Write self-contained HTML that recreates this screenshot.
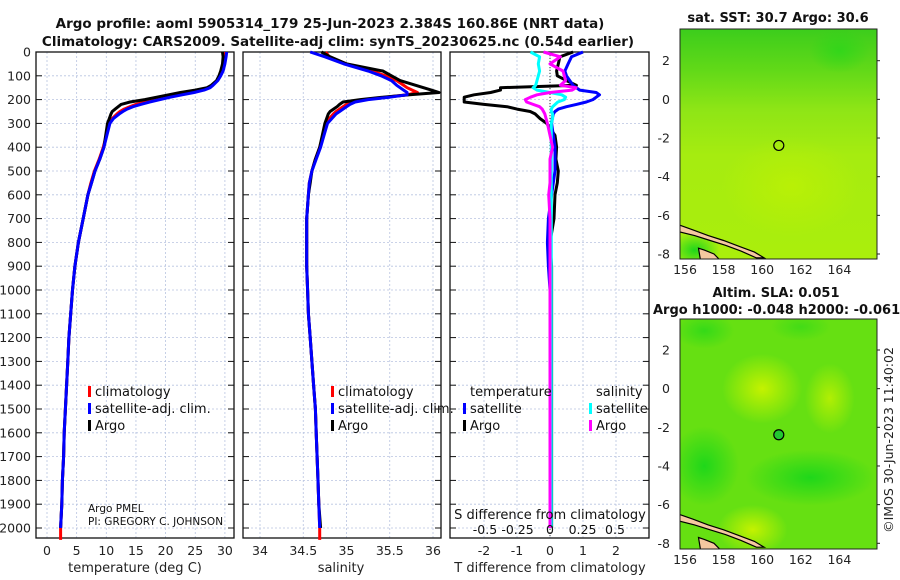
<!DOCTYPE html>
<html><head><meta charset="utf-8"><style>
html,body{margin:0;padding:0;background:#fff;}
svg{display:block;font-family:"DejaVu Sans","Liberation Sans",sans-serif;}
</style></head><body>
<svg id="fig" width="900" height="580" viewBox="0 0 900 580" xmlns="http://www.w3.org/2000/svg">
<defs>
<linearGradient id="sstGrad" x1="0" y1="0" x2="0" y2="1">
<stop offset="0" stop-color="#3ccd1c"/><stop offset="0.18" stop-color="#62d918"/><stop offset="0.35" stop-color="#8ee516"/><stop offset="0.55" stop-color="#a6ec10"/><stop offset="1" stop-color="#aaee0c"/>
</linearGradient>
<radialGradient id="ylw1" cx="0.5" cy="0.5" r="0.5"><stop offset="0" stop-color="#c4f200"/><stop offset="1" stop-color="#c4f200" stop-opacity="0"/></radialGradient>
<radialGradient id="grn1" cx="0.5" cy="0.5" r="0.5"><stop offset="0" stop-color="#1fd71a"/><stop offset="1" stop-color="#1fd71a" stop-opacity="0"/></radialGradient>
<clipPath id="clipTop"><rect x="680" y="29" width="197" height="230"/></clipPath>
<clipPath id="clipBot"><rect x="680" y="319" width="197" height="230"/></clipPath>
</defs>
<text x="330" y="28" text-anchor="middle" font-size="13.5" font-weight="bold" fill="#111">Argo profile: aoml 5905314_179 25-Jun-2023 2.384S 160.86E (NRT data)</text>
<text x="338" y="46" text-anchor="middle" font-size="13.5" font-weight="bold" fill="#111">Climatology: CARS2009. Satellite-adj clim: synTS_20230625.nc (0.54d earlier)</text>
<g id="plots"></g>
</svg>
<script>
// ---- data ----
const depths = [0,20,50,80,100,120,140,150,160,170,180,190,200,210,220,230,240,250,260,280,300,350,400,450,500,550,600,700,800,900,1000,1100,1200,1300,1400,1500,1600,1700,1800,1900,2000,2050];
const tempClim = [29.9,29.9,29.8,29.5,29.2,28.7,27.9,27.2,26,24,22,20,18,16.5,15,14,13,12.3,11.8,11,10.5,10,9.5,8.8,8.0,7.4,6.9,6.1,5.3,4.7,4.3,4.0,3.7,3.5,3.3,3.1,2.9,2.8,2.6,2.5,2.3,2.3];
const tempSat = [30.3,30.2,30.0,29.7,29.3,28.8,28.0,27.5,26.5,24.8,22.8,20.8,19,17.3,15.8,14.5,13.5,12.8,12.2,11.2,10.6,10.1,9.6,8.9,8.1,7.5,6.9,6.1,5.3,4.7,4.3,4.0,3.7,3.5,3.3,3.1,2.9,2.8,2.6,2.5,2.3,null];
const tempArgo = [29.6,29.7,29.6,29.3,29.0,28.6,27.7,27.0,25.0,22.5,20.5,18.5,16.5,14.0,12.5,12.0,11.5,11.0,10.8,10.5,10.2,9.9,9.6,8.9,8.1,7.5,6.9,6.1,5.3,4.7,4.3,4.0,3.7,3.5,3.3,3.1,2.9,2.8,2.6,2.5,2.3,null];
const salClim = [34.76,34.8,35.0,35.3,35.45,35.58,35.66,35.7,35.76,35.82,35.7,35.45,35.2,35.05,35.0,34.96,34.92,34.88,34.85,34.8,34.77,34.73,34.69,34.64,34.6,34.57,34.56,34.54,34.54,34.54,34.55,34.56,34.58,34.6,34.62,34.64,34.65,34.66,34.67,34.68,34.69,34.69];
const salSat = [34.58,34.75,34.97,35.25,35.4,35.52,35.58,35.62,35.66,35.7,35.7,35.5,35.25,35.1,35.04,35.0,34.96,34.92,34.88,34.83,34.78,34.74,34.7,34.65,34.6,34.57,34.56,34.54,34.54,34.54,34.55,34.56,34.58,34.6,34.62,34.64,34.65,34.66,34.67,34.68,34.69,null];
const salArgo = [34.71,34.81,35.0,35.42,35.52,35.62,35.8,35.89,35.98,36.07,35.73,35.42,35.16,34.96,34.92,34.89,34.85,34.81,34.79,34.77,34.75,34.72,34.69,34.64,34.6,34.58,34.56,34.54,34.54,34.54,34.55,34.56,34.58,34.6,34.62,34.64,34.65,34.66,34.67,34.68,34.70,null];
const tDiffArgo = [0.7,0.3,0.25,0.2,0.22,0.5,0.8,-1.5,-1.5,-1.8,-2.3,-2.6,-2.6,-2.6,-2.0,-1.3,-1.0,-0.6,-0.45,-0.3,-0.1,0.15,0.2,0.18,0.25,0.22,0.15,0.12,0.0,0.05,0.05,0.05,0.05,0.05,0.05,0.05,0.05,0.05,0.05,0.05,0.05,null];
const tDiffSat = [1.0,0.65,0.55,0.45,0.5,0.6,0.7,0.8,0.9,1.4,1.5,1.4,1.3,1.1,0.8,0.5,0.25,0.15,0.1,0.07,0.05,0.1,0.15,0.15,0.15,0.1,0.05,-0.05,-0.08,-0.05,0,0,0,0,0,0,0,0,0,0,0,null];
const sDiffSat = [-0.15,-0.08,-0.09,-0.08,-0.09,-0.1,-0.11,-0.13,-0.1,0.0,0.09,0.12,0.11,0.06,0.04,0.02,0.01,0.01,0.02,0.02,0.01,0.01,0.01,0.01,0.01,0.01,0.01,0.01,0.01,0.01,0.01,0.01,0.01,0.01,0.01,0.01,0.01,0.01,0.01,0.01,0.01,null];
const sDiffArgo = [-0.05,0.08,0.0,0.1,0.11,0.12,0.08,0.2,0.17,0.0,-0.1,-0.15,-0.19,-0.18,-0.13,-0.08,-0.06,-0.05,-0.04,-0.03,-0.02,0.0,0.02,0.0,0.0,0.0,-0.01,0,0,0,0,0,0,0,0,0,0,0,0,0,0,null];
const depthTicks = [0,100,200,300,400,500,600,700,800,900,1000,1100,1200,1300,1400,1500,1600,1700,1800,1900,2000];
const tempTicks = [0,5,10,15,20,25,30];
const salTicks = [34,34.5,35,35.5,36];
const tDiffTicks = [-2,-1,0,1,2];
const sDiffTicks = [-0.5,-0.25,0,0.25,0.5];
const lonTicks = [156,158,160,162,164];
const latTicks = [2,0,-2,-4,-6,-8];
const argoLon = 160.86, argoLat = -2.384;

// ---- helpers ----
const NS="http://www.w3.org/2000/svg";
const root=document.getElementById('plots');
function mk(tag,attrs,parent){const e=document.createElementNS(NS,tag);for(const k in attrs)e.setAttribute(k,attrs[k]);(parent||root).appendChild(e);return e;}
const PT=52, PB=538;
const yD = d => PT + d*0.238;
const panels = [
 {x0:36,x1:234,sx:v=>47+v*5.93,ticks:tempTicks,name:'temperature-panel'},
 {x0:243,x1:441,sx:v=>260+(v-34)*86.5,ticks:salTicks,name:'salinity-panel'},
 {x0:450,x1:649,sx:v=>550+v*33,ticks:tDiffTicks,name:'difference-panel'}
];
const sxS = v=>550+v*130;

panels.forEach((p,i)=>{
  const g=mk('g',{});
  
  
  depthTicks.forEach(d=>{
    const l=mk('line',{x1:p.x0,x2:p.x1,y1:yD(d),y2:yD(d),stroke:'#b8c4e0','stroke-width':0.8,'stroke-dasharray':'2,2'},g);
    
    
    mk('line',{x1:p.x0,x2:p.x0+6,y1:yD(d),y2:yD(d),stroke:'#111','stroke-width':1},g);
    mk('line',{x1:p.x1-6,x2:p.x1,y1:yD(d),y2:yD(d),stroke:'#111','stroke-width':1},g);
    if(i===0){
      const t=mk('text',{x:31,y:yD(d)+4.5,'text-anchor':'end','font-size':12.5,fill:'#222'},g);
      t.textContent=d;
      
      
    }
  });
  p.ticks.forEach(v=>{
    const x=p.sx(v);
    const l=mk('line',{x1:x,x2:x,y1:PT,y2:PB,stroke:'#b8c4e0','stroke-width':0.8,'stroke-dasharray':'2,2'},g);
    
    
    const t=mk('text',{x:x,y:555,'text-anchor':'middle','font-size':12.5,fill:'#222'},g);
    t.textContent=v;
    
    
  });
  const fr=mk('rect',{x:p.x0,y:PT,width:p.x1-p.x0,height:PB-PT,fill:'none',stroke:'#111','stroke-width':1.3},g);
  
  
});
// zero line
const zl=mk('line',{x1:550,x2:550,y1:PT,y2:PB,stroke:'#333','stroke-width':1,'stroke-dasharray':'1,2'});



function series(vals,sx,color,name,w){
  let d='';let pen=false;
  vals.forEach((v,k)=>{ if(v===null){pen=false;return;} d+=(pen?'L':'M')+sx(v).toFixed(1)+','+yD(depths[k]).toFixed(1)+' '; pen=true;});
  const e=mk('path',{d:d,fill:'none',stroke:color,'stroke-width':w||3,'stroke-linejoin':'round'});
  
  
}
series(tempClim,panels[0].sx,'#f00','temp-climatology-line');
series(tempArgo,panels[0].sx,'#000','temp-argo-line');
series(tempSat,panels[0].sx,'#00f','temp-satellite-line');
series(salClim,panels[1].sx,'#f00','salinity-climatology-line');
series(salArgo,panels[1].sx,'#000','salinity-argo-line');
series(salSat,panels[1].sx,'#00f','salinity-satellite-line');
series(tDiffArgo,panels[2].sx,'#000','tdiff-argo-line');
series(tDiffSat,panels[2].sx,'#00f','tdiff-satellite-line');
series(sDiffSat,sxS,'#00ffff','sdiff-satellite-line');
series(sDiffArgo,sxS,'#ff00ff','sdiff-argo-line');

function txt(x,y,s,size,name,anchor,extra){
  const t=mk('text',Object.assign({x:x,y:y,'font-size':size,fill:'#111','text-anchor':anchor||'start'},extra||{}));
  t.textContent=s;
  
  
  return t;
}
function legMark(x,y,c){const r=mk('rect',{x:x,y:y-10,width:3,height:11,fill:c});}
// legends
[[88,95],[331,338]].forEach(([mx,tx])=>{
  legMark(mx,396,'#f00');txt(tx,396,'climatology',13,'legend-entry-climatology');
  legMark(mx,413,'#00f');txt(tx,413,'satellite-adj. clim.',13,'legend-entry-satellite');
  legMark(mx,430,'#000');txt(tx,430,'Argo',13,'legend-entry-argo');
});
txt(470,396,'temperature',13,'legend-header-temperature');
txt(596,396,'salinity',13,'legend-header-salinity');
legMark(463,413,'#00f');txt(470,413,'satellite',13,'legend-entry-t-satellite');
legMark(463,430,'#000');txt(470,430,'Argo',13,'legend-entry-t-argo');
legMark(589,413,'#00ffff');txt(596,413,'satellite',13,'legend-entry-s-satellite');
legMark(589,430,'#ff00ff');txt(596,430,'Argo',13,'legend-entry-s-argo');
txt(88,512,'Argo PMEL',10.5,'institution-label');
txt(88,525,'PI: GREGORY C. JOHNSON',10.5,'pi-label');
txt(550,519,'S difference from climatology',13,'s-diff-axis-title','middle');
sDiffTicks.forEach(v=>txt(sxS(v),534,String(v),12.5,'s-diff-tick-label','middle'));
txt(135,572,'temperature (deg C)',13,'temperature-axis-title','middle',{fill:'#222'});
txt(341,572,'salinity',13,'salinity-axis-title','middle',{fill:'#222'});
txt(550,572,'T difference from climatology',13,'t-diff-axis-title','middle',{fill:'#222'});

// ---- maps ----
const mx0=680,mx1=877;
const lonX = lon => 685+(lon-156)*19.3;
function drawMap(y0,lat2y,name,clip,isSLA){
  const latY = lat => lat2y+(2-lat)*19.33;
  const g=mk('g',{'clip-path':'url(#'+clip+')'});
  
  
  if(!isSLA){
    mk('rect',{x:mx0,y:y0,width:mx1-mx0,height:230,fill:'url(#sstGrad)'},g);
    mk('ellipse',{cx:lonX(164),cy:latY(2.5),rx:30,ry:22,fill:'url(#grn1)',opacity:0.6},g);
    mk('ellipse',{cx:lonX(161.5),cy:latY(-4.5),rx:70,ry:50,fill:'url(#ylw1)',opacity:0.6},g);
    mk('ellipse',{cx:lonX(156.5),cy:latY(-7.8),rx:25,ry:18,fill:'url(#grn1)'},g);
  } else {
    mk('rect',{x:mx0,y:y0,width:mx1-mx0,height:230,fill:'#66e012'},g);
    mk('ellipse',{cx:lonX(160),cy:latY(0),rx:40,ry:35,fill:'url(#ylw1)'},g);
    mk('ellipse',{cx:lonX(163.5),cy:latY(-0.5),rx:25,ry:35,fill:'url(#ylw1)',opacity:0.8},g);
    mk('ellipse',{cx:lonX(159.5),cy:latY(-7.3),rx:35,ry:25,fill:'url(#ylw1)'},g);
    mk('ellipse',{cx:lonX(157),cy:latY(-4),rx:35,ry:40,fill:'url(#grn1)'},g);
    mk('ellipse',{cx:lonX(162.5),cy:latY(-4.6),rx:65,ry:28,fill:'url(#grn1)'},g);
    mk('ellipse',{cx:lonX(157),cy:latY(3),rx:30,ry:18,fill:'url(#grn1)',opacity:0.7},g);
    mk('ellipse',{cx:lonX(162),cy:latY(3.2),rx:30,ry:14,fill:'url(#grn1)',opacity:0.5},g);
  }
  // coast (thin island strip)
  const coast=[[155.7,-6.5],[156.4,-6.75],[157.2,-7.05],[158,-7.3],[158.8,-7.6],[159.6,-7.9],[160.1,-8.2],[159.7,-8.2],[158.9,-7.85],[158.1,-7.55],[157.3,-7.3],[156.5,-7.05],[155.7,-6.85]];
  const cs=coast.map(c=>lonX(c[0]).toFixed(1)+','+latY(c[1]).toFixed(1)).join(' ');
  const cp=mk('polygon',{points:cs,fill:'#f5c8a0',stroke:'#000','stroke-width':1.2},g);
  
  
  const is2=[[156.7,-7.7],[157.0,-7.8],[157.5,-8.0],[157.8,-8.3],[156.8,-8.3]];
  mk('polygon',{points:is2.map(c=>lonX(c[0]).toFixed(1)+','+latY(c[1]).toFixed(1)).join(' '),fill:'#f5c8a0',stroke:'#000','stroke-width':1.2},g);
  const cm=mk('circle',{cx:lonX(argoLon),cy:latY(argoLat),r:5,fill:isSLA?'#22c830':'none',stroke:'#000','stroke-width':1.2});
  
  
  const fr=mk('rect',{x:mx0,y:y0,width:mx1-mx0,height:230,fill:'none',stroke:'#222','stroke-width':1});
  
  
  latTicks.forEach(lat=>{
    const y=latY(lat);
    txt(670,y+4.5,String(lat),12.5,'lat-tick-label','end',{fill:'#222'});
    mk('line',{x1:mx1,x2:mx1+3,y1:y,y2:y,stroke:'#222'});
  });
  lonTicks.forEach(lon=>{
    txt(lonX(lon),y0+230+15,String(lon),12.5,'lon-tick-label','middle',{fill:'#222'});
  });
}
drawMap(29,60.7,'sst-map','clipTop',false);
drawMap(319,350,'sla-map','clipBot',true);
txt(778,22,'sat. SST: 30.7 Argo: 30.6',13,'sst-map-title','middle',{'font-weight':'bold'});
txt(776,297,'Altim. SLA: 0.051',13,'sla-map-title','middle',{'font-weight':'bold'});
txt(653,314,'Argo h1000: -0.048 h2000: -0.061',13,'sla-map-subtitle','start',{'font-weight':'bold'});
txt(0,0,'©IMOS 30-Jun-2023 11:40:02',12.5,'imos-credit','middle',{transform:'translate(893,440) rotate(-90)',fill:'#222'});
</script>
</body></html>
